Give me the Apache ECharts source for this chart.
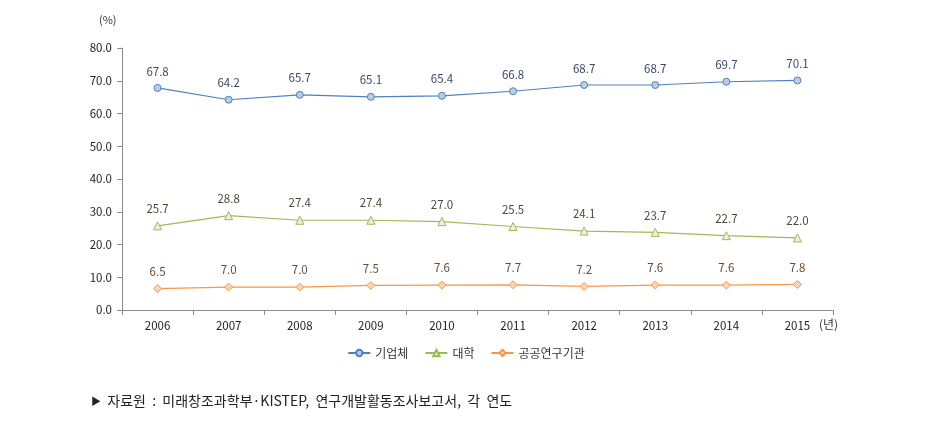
<!DOCTYPE html>
<html><head><meta charset="utf-8">
<script src="https://cdn.jsdelivr.net/npm/echarts@6/dist/echarts.min.js"></script>
<style>html,body{margin:0;padding:0;background:#fff}#c{width:932px;height:435px}</style>
</head><body><div id="c"></div>
<script>
const years = ['2006','2007','2008','2009','2010','2011','2012','2013','2014','2015'];
const industry = [67.8,64.2,65.7,65.1,65.4,66.8,68.7,68.7,69.7,70.1];
const university = [25.7,28.8,27.4,27.4,27.0,25.5,24.1,23.7,22.7,22.0];
const publicInst = [6.5,7.0,7.0,7.5,7.6,7.7,7.2,7.6,7.6,7.8];
const seriesNames = ['기업체','대학','공공연구기관'];
const yTicks = {min:0,max:80,interval:10};

const font = '"Noto Sans CJK KR","Malgun Gothic",sans-serif';
const chart = echarts.init(document.getElementById('c'));
function mk(name, data, color, symbol, size, fill, labelColor){
  return {name, type:'line', data, symbol, symbolSize:size,
    lineStyle:{color, width:1.2},
    itemStyle:{color:fill, borderColor:color, borderWidth:1},
    label:{show:true, position:'top', distance:7, formatter:p=>p.value.toFixed(1),
      color:labelColor, fontSize:11.5, fontFamily:font},
    emphasis:{disabled:true}};
}
chart.setOption({
  animation:false,
  grid:{left:122,right:99,top:48,bottom:125},
  graphic:[
    {type:'text',left:99,top:14,style:{text:'(%)',fontSize:11,fill:'#333',fontFamily:font}},
    {type:'text',left:819,top:318,style:{text:'(년)',fontSize:12,fill:'#333',fontFamily:font}},
    {type:'text',left:91,top:394,style:{text:'{a|▶}  자료원  :  미래창조과학부·KISTEP,  연구개발활동조사보고서,  각  연도',
      rich:{a:{fontSize:10,fill:'#222',fontFamily:font}},
      fontSize:14,fill:'#222',fontFamily:font}}
  ],
  legend:{data:seriesNames, top:342, left:'center', itemWidth:22, itemHeight:8, itemGap:16,
    textStyle:{fontSize:12,color:'#333',fontFamily:font}},
  xAxis:{type:'category', data:years, boundaryGap:true,
    axisLine:{lineStyle:{color:'#8c8c8c'}},
    axisTick:{show:true, length:5, lineStyle:{color:'#8c8c8c'}},
    axisLabel:{color:'#222', fontSize:11.5, margin:10, fontFamily:font}},
  yAxis:{type:'value', min:yTicks.min, max:yTicks.max, interval:yTicks.interval,
    axisLine:{show:true, lineStyle:{color:'#8c8c8c'}},
    axisTick:{show:true, length:5, lineStyle:{color:'#8c8c8c'}},
    splitLine:{show:false},
    axisLabel:{color:'#222', fontSize:11.5, margin:10, formatter:v=>v.toFixed(1), fontFamily:font}},
  series:[
    mk(seriesNames[0], industry, '#4f81bd', 'circle', 7, '#b9cde5', '#3a4a66'),
    mk(seriesNames[1], university, '#9bbb59', 'triangle', 8, '#ebf1de', '#4a4a38'),
    mk(seriesNames[2], publicInst, '#f79646', 'diamond', 8, '#fcd5b5', '#6b4a2e')
  ]
});
</script></body></html>
